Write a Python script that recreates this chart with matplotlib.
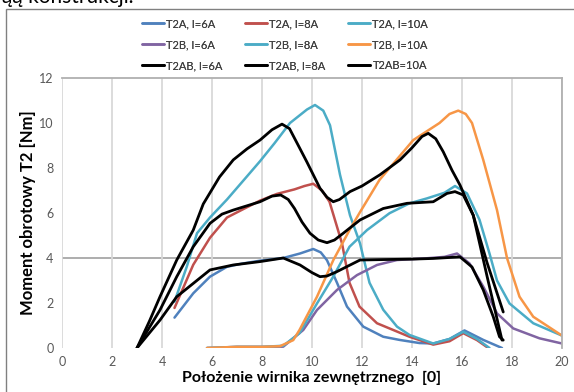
import matplotlib
matplotlib.use("Agg")
import matplotlib.pyplot as plt
from matplotlib.patches import Rectangle

plt.rcParams['font.family'] = ['Lato', 'DejaVu Sans']

# ---- data ----
x_t2a_6 = [4.5, 5.25, 5.92, 6.6, 7.2, 7.92, 8.85, 9.52, 10.05, 10.35, 10.6, 11.0, 11.4, 12.05, 12.85, 13.5, 14.3, 14.85, 15.5, 16.1, 16.85, 17.6]
y_t2a_6 = [1.35, 2.43, 3.17, 3.61, 3.75, 3.88, 4.0, 4.2, 4.4, 4.25, 3.9, 2.9, 1.84, 0.95, 0.5, 0.36, 0.22, 0.2, 0.4, 0.78, 0.36, 0.0]

x_t2a_8 = [4.5, 5.25, 5.92, 6.6, 7.3, 7.92, 8.6, 9.3, 9.7, 10.05, 10.4, 10.7, 11.2, 11.5, 11.9, 12.6, 13.9, 14.85, 15.5, 16.05, 16.6, 17.05]
y_t2a_8 = [1.78, 3.7, 4.9, 5.8, 6.2, 6.55, 6.85, 7.05, 7.2, 7.3, 7.0, 6.5, 4.65, 2.9, 1.84, 1.1, 0.5, 0.15, 0.3, 0.66, 0.35, 0.0]

x_t2a_10 = [4.5, 4.99, 5.4, 5.92, 6.6, 7.3, 7.92, 8.5, 9.12, 9.8, 10.12, 10.45, 10.72, 11.12, 11.52, 11.92, 12.3, 12.85, 13.4, 13.9, 14.85, 15.5, 16.05, 16.6, 17.1]
y_t2a_10 = [2.06, 3.61, 5.1, 5.8, 6.6, 7.5, 8.3, 9.1, 10.0, 10.6, 10.8, 10.55, 9.9, 7.7, 5.9, 4.65, 2.9, 1.7, 0.95, 0.58, 0.2, 0.4, 0.72, 0.4, 0.0]

x_t2b_6 = [5.8, 7.0, 8.0, 8.85, 9.65, 10.2, 11.0, 11.8, 12.6, 13.4, 14.5, 15.3, 15.8, 16.3, 16.85, 17.4, 18.05, 19.1, 20.0]
y_t2b_6 = [0.0, 0.05, 0.05, 0.06, 0.8, 1.69, 2.58, 3.24, 3.69, 3.91, 3.98, 4.05, 4.2, 3.76, 2.73, 1.54, 0.87, 0.43, 0.2]

x_t2b_8 = [5.8, 7.0, 8.0, 8.85, 9.5, 10.2, 10.85, 11.5, 12.2, 13.1, 13.9, 14.6, 15.3, 15.72, 16.2, 16.7, 17.1, 17.4, 17.9, 18.85, 20.0]
y_t2b_8 = [0.0, 0.05, 0.05, 0.1, 0.66, 1.98, 3.17, 4.5, 5.24, 5.99, 6.43, 6.65, 6.9, 7.2, 6.87, 5.7, 4.2, 3.0, 1.98, 1.1, 0.55]

x_t2b_10 = [5.8, 7.0, 8.0, 8.72, 9.25, 9.5, 10.2, 10.85, 11.5, 11.9, 12.7, 14.05, 15.1, 15.5, 15.85, 16.15, 16.4, 16.85, 17.4, 17.8, 18.3, 18.85, 20.0]
y_t2b_10 = [0.0, 0.05, 0.05, 0.08, 0.35, 0.8, 2.28, 3.9, 5.24, 6.0, 7.47, 9.24, 10.0, 10.4, 10.55, 10.4, 10.0, 8.36, 6.13, 4.0, 2.28, 1.39, 0.55]

x_t2ab_6 = [3.0, 3.92, 4.59, 5.25, 5.92, 6.85, 7.92, 8.85, 9.52, 10.0, 10.32, 10.6, 10.99, 11.92, 12.85, 14.0, 14.85, 15.92, 16.4, 16.85, 17.25, 17.5, 17.65]
y_t2ab_6 = [0.0, 1.24, 2.28, 2.87, 3.47, 3.69, 3.84, 4.0, 3.69, 3.35, 3.17, 3.2, 3.39, 3.91, 3.93, 3.95, 3.98, 4.05, 3.6, 2.58, 1.39, 0.5, 0.35]

x_t2ab_8 = [3.0, 3.92, 4.59, 5.25, 5.92, 6.4, 6.85, 7.92, 8.4, 8.75, 9.05, 9.3, 9.6, 9.92, 10.25, 10.6, 10.9, 11.25, 11.92, 12.85, 13.8, 14.85, 15.4, 15.72, 16.05, 16.45, 17.0, 17.6]
y_t2ab_8 = [0.0, 1.69, 3.17, 4.5, 5.54, 5.95, 6.13, 6.5, 6.75, 6.8, 6.6, 6.2, 5.6, 5.1, 4.8, 4.68, 4.8, 5.1, 5.69, 6.2, 6.43, 6.5, 6.87, 6.95, 6.8, 5.9, 3.2, 0.35]

x_t2ab_10 = [3.0, 3.5, 3.92, 4.59, 5.25, 5.65, 6.3, 6.85, 7.4, 7.92, 8.4, 8.8, 9.1, 9.5, 9.79, 10.32, 10.6, 10.85, 11.1, 11.52, 12.0, 12.72, 13.52, 14.0, 14.4, 14.65, 14.95, 15.25, 15.6, 15.92, 16.45, 17.0, 17.65]
y_t2ab_10 = [0.0, 1.2, 2.28, 3.91, 5.24, 6.4, 7.6, 8.36, 8.85, 9.24, 9.7, 9.95, 9.75, 8.9, 8.28, 7.1, 6.7, 6.5, 6.6, 6.95, 7.2, 7.7, 8.36, 8.9, 9.4, 9.54, 9.3, 8.72, 7.9, 7.24, 5.9, 3.8, 1.6]

labels = ["T2A, I=6A", "T2A, I=8A", "T2A, I=10A",
          "T2B, I=6A", "T2B, I=8A", "T2B, I=10A",
          "T2AB, I=6A", "T2AB, I=8A", "T2AB=10A"]

x_ticks = [0, 2, 4, 6, 8, 10, 12, 14, 16, 18, 20]
y_ticks = [0, 2, 4, 6, 8, 10, 12]

BLUE = "#4F81BD"; RED = "#C0504D"; TEAL = "#4BACC6"; PURPLE = "#8064A2"; ORANGE = "#F79646"; BLACK = "#000000"

series = [
    (x_t2a_6, y_t2a_6, BLUE, 1.8),
    (x_t2a_8, y_t2a_8, RED, 1.8),
    (x_t2a_10, y_t2a_10, TEAL, 1.8),
    (x_t2b_6, y_t2b_6, PURPLE, 1.8),
    (x_t2b_8, y_t2b_8, TEAL, 1.8),
    (x_t2b_10, y_t2b_10, ORANGE, 1.8),
    (x_t2ab_6, y_t2ab_6, BLACK, 2.0),
    (x_t2ab_8, y_t2ab_8, BLACK, 2.0),
    (x_t2ab_10, y_t2ab_10, BLACK, 2.0),
]

W, H = 574, 392
fig = plt.figure(figsize=(W / 100, H / 100), dpi=100)
ax = fig.add_axes([62 / W, 1 - 348 / H, 500 / W, 270 / H])

handles = []
for (xs, ys, c, lw), lab in zip(series, labels):
    h, = ax.plot(xs, ys, color=c, lw=lw, label=lab, solid_joinstyle='round', solid_capstyle='round')
    handles.append(h)

ax.set_xlim(0, 20)
ax.set_ylim(0, 12)
ax.set_xticks(x_ticks)
ax.set_yticks(y_ticks)
ax.tick_params(length=0, labelsize=9, labelcolor="#595959", pad=6)
ax.grid(axis='x', color="#D9D9D9", lw=1.3)
ax.axhline(4, color="#A0A0A0", lw=1.2, zorder=0.5)
ax.set_axisbelow(True)
for s in ['bottom', 'left']:
    ax.spines[s].set_visible(False)
for s in ['top', 'right']:
    ax.spines[s].set_color("#B0B0B0")
    ax.spines[s].set_linewidth(1.3)

ax.set_xlabel("Położenie wirnika zewnętrznego  [0]", fontsize=11.5, fontweight='bold', color="#000000", labelpad=2)
ax.set_ylabel("Moment obrotowy T2 [Nm]", fontsize=12, fontweight='bold', color="#000000", labelpad=2)

# legend: three columns placed like the original
col_x = [142, 245, 348]
for ci in range(3):
    hs = [handles[ci], handles[3 + ci], handles[6 + ci]]
    leg = fig.legend(hs, [h.get_label() for h in hs], loc='upper left',
                     bbox_to_anchor=(col_x[ci] / W, 1 - 18 / H), frameon=False,
                     fontsize=8, handlelength=2.0, handletextpad=0.2,
                     labelspacing=0.9, borderpad=0, borderaxespad=0)
    for t in leg.get_texts():
        t.set_color("#404040")
    fig.add_artist(leg)

# outer chart frame
fig.add_artist(Rectangle((6 / W, -0.1), 1.2, 1 - 9 / H + 0.1, transform=fig.transFigure,
                         fill=False, edgecolor="#808080", lw=1.0))

# clipped document text above the chart
fig.text(2 / W, 1 - 3 / H, "ąą konstrukcji.", fontsize=15, va='baseline', ha='left', color="#000000")

fig.savefig("out.png", dpi=100)
